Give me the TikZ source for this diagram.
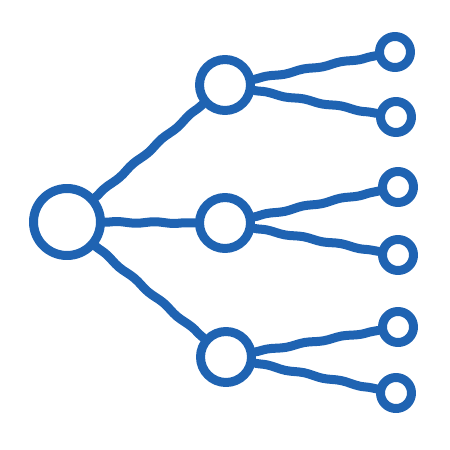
\documentclass[tikz,border=0pt]{standalone}
\usetikzlibrary{decorations.pathmorphing}
\definecolor{penblue}{RGB}{31,99,178}
\tikzset{
  ink/.style={draw=penblue, line width=9pt, line cap=round, line join=round},
  rootnode/.style={ink, circle, minimum size=67pt, inner sep=0pt},
  midnode/.style={ink, circle, minimum size=51pt, inner sep=0pt},
  leafnode/.style={ink, circle, minimum size=31pt, inner sep=0pt},
  wire/.style={ink, decorate, decoration={snake, amplitude=0.8pt, segment length=38pt}}
}
\begin{document}
\begin{tikzpicture}[x=1pt,y=-1pt]
    \useasboundingbox (0,0) rectangle (450,450);

    % root and the three branches
    \node[rootnode] (root) at (67,222) {};
    \node[midnode] (mtop) at (225,85) {};
    \node[midnode] (mmid) at (225,223) {};
    \node[midnode] (mbot) at (226,357) {};

    % leaves
    \node[leafnode] (l1) at (395,52) {};
    \node[leafnode] (l2) at (396,117) {};
    \node[leafnode] (l3) at (398,187) {};
    \node[leafnode] (l4) at (398,255) {};
    \node[leafnode] (l5) at (398,327) {};
    \node[leafnode] (l6) at (396,393) {};

    % connectors
    \draw[wire] (root) -- (mtop);
    \draw[wire] (root) -- (mmid);
    \draw[wire] (root) -- (mbot);

    \draw[wire] (mtop) -- (l1);
    \draw[wire] (mtop) -- (l2);
    \draw[wire] (mmid) -- (l3);
    \draw[wire] (mmid) -- (l4);
    \draw[wire] (mbot) -- (l5);
    \draw[wire] (mbot) -- (l6);
\end{tikzpicture}
\end{document}
